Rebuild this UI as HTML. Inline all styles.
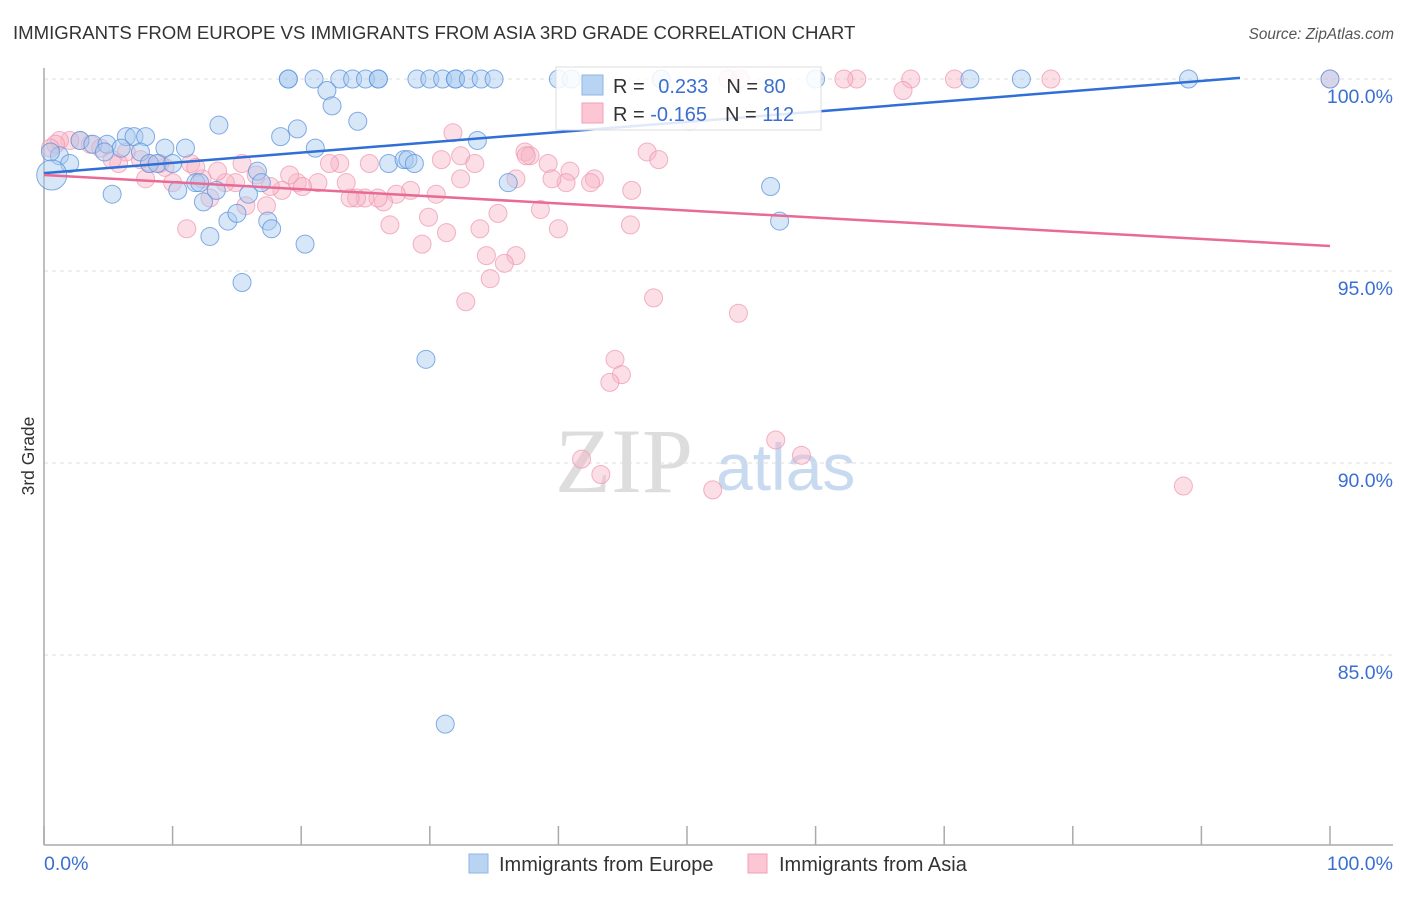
<!DOCTYPE html>
<html><head><meta charset="utf-8"><style>
body{margin:0;background:#fff;font-family:"Liberation Sans",sans-serif}
</style></head><body>
<svg id="chart" width="1406" height="892" xmlns="http://www.w3.org/2000/svg" font-family="Liberation Sans, sans-serif">
<text x="13" y="39" font-size="18.6" fill="#333">IMMIGRANTS FROM EUROPE VS IMMIGRANTS FROM ASIA 3RD GRADE CORRELATION CHART</text>
<text x="1394" y="39" font-size="15.3" fill="#555" font-style="italic" text-anchor="end">Source: ZipAtlas.com</text>
<text x="555" y="492" font-size="92" fill="#ddd" font-family="Liberation Serif, serif">ZIP</text>
<text x="716" y="490" font-size="66" fill="#c8daf0">atlas</text>
<text transform="translate(34,456) rotate(-90)" font-size="17.5" fill="#333" text-anchor="middle">3rd Grade</text>
<g id="grid"></g><g id="marks"></g><g id="lines"></g>
<g>
<rect x="556" y="67" width="265" height="63" fill="#fff" fill-opacity="0.85" stroke="#ddd"/>
<rect x="582" y="75" width="21" height="20" fill="#b9d3f3" stroke="#8fb4e6"/>
<rect x="582" y="103" width="21" height="20" fill="#fcc6d4" stroke="#f0a0b8"/>
<text x="613" y="93" font-size="20" fill="#333">R = <tspan fill="#3a6fd0" dx="8">0.233</tspan><tspan dx="18">N = </tspan><tspan fill="#3a6fd0">80</tspan></text>
<text x="613" y="121" font-size="20" fill="#333">R = <tspan fill="#3a6fd0">-0.165</tspan><tspan dx="18">N = </tspan><tspan fill="#3a6fd0">112</tspan></text>
</g>
<g>
<rect x="469" y="854" width="19" height="19" fill="#b9d3f3" stroke="#8fb4e6"/>
<text x="499" y="871" font-size="20" fill="#333">Immigrants from Europe</text>
<rect x="748" y="854" width="19" height="19" fill="#fcc6d4" stroke="#f0a0b8"/>
<text x="779" y="871" font-size="20" fill="#333">Immigrants from Asia</text>
</g>
</svg>
<script>
const yTicks=[100,95,90,85];
const xTickLabels=["0.0%","100.0%"];
const europeX=[19,19,21,23,24,25,26,26,29,30,31,32,32,33,34,35,40,41,48,60,72,76,89,100,22,22.4,24.4,19.7,18.4,13.6,21.1,33.7,2.8,3.8,4.9,6.4,7,7.9,6,4.7,9.4,11,7.5,1.2,2,0.5,0.6,8.2,8.8,10,5.3,10.4,11.8,12.1,13.4,12.4,12.9,14.3,15,15.4,15.9,16.6,16.9,17.4,17.7,20.3,26.8,28,28.3,28.8,36.1,29.7,31.2,56.5,57.2];
const europeY=[100,100,100,100,100,100,100,100,100,100,100,100,100,100,100,100,100,100,100,100,100,100,100,100,99.7,99.3,98.9,98.7,98.5,98.8,98.2,98.4,98.4,98.3,98.3,98.5,98.5,98.5,98.2,98.1,98.2,98.2,98.1,98,97.8,98.1,97.5,97.8,97.8,97.8,97,97.1,97.3,97.3,97.1,96.8,95.9,96.3,96.5,94.7,97,97.6,97.3,96.3,96.1,95.7,97.8,97.9,97.9,97.8,97.3,92.7,83.2,97.2,96.3];
const asiaX=[100,78.3,70.8,67.4,63.2,62.2,66.8,53.2,54.1,50.2,31.8,32.4,33.5,30.9,37.4,37.8,39.2,40.9,42.8,40.6,42.5,46.9,47.8,39.5,36.7,38.6,40,35.3,33.9,34.4,36.7,35.8,34.7,32.8,31.3,29.4,29.9,30.5,28.5,27.4,26.4,25.97,24.96,24.3,23.8,23.5,23,22.2,25.3,21.3,19.7,20.1,19.1,18.5,17.6,17.3,16.5,15.7,15.4,14.9,14.1,13.5,12.9,12.3,11.4,11.8,11.1,10,9.4,9,7.9,8.2,7.5,6.4,5.8,5.3,4.4,3.6,2.8,2,1.2,0.9,0.5,45.7,45.6,47.4,54,44.4,44.9,44,56.9,58.9,41.8,43.3,52,88.6,26.9,32.4,37.5];
const asiaY=[100,100,100,100,100,100,99.7,100,100,98.9,98.6,98,97.8,97.9,98.1,98,97.8,97.6,97.4,97.3,97.3,98.1,97.9,97.4,97.4,96.6,96.1,96.5,96.1,95.4,95.4,95.2,94.8,94.2,96,95.7,96.4,97,97.1,97,96.8,96.9,96.9,96.9,96.9,97.3,97.8,97.8,97.8,97.3,97.3,97.2,97.5,97.1,97.2,96.7,97.5,96.7,97.8,97.3,97.3,97.6,96.9,97.4,97.8,97.7,96.1,97.3,97.7,97.8,97.4,97.8,97.9,98.1,97.8,97.9,98.2,98.3,98.4,98.4,98.4,98.3,98.2,97.1,96.2,94.3,93.9,92.7,92.3,92.1,90.6,90.2,90.1,89.7,89.3,89.4,96.2,97.4,98];
const europeTrend=[97.55,100.03];
const asiaTrend=[97.5,95.65];
const NS='http://www.w3.org/2000/svg';
const X0=44,X1=1330,Y100=79,PXPCT=38.4;
const sx=v=>X0+(X1-X0)*v/100;
const sy=v=>Y100+(100-v)*PXPCT;
function mk(tag,attrs,parent){const e=document.createElementNS(NS,tag);for(const k in attrs)e.setAttribute(k,attrs[k]);parent.appendChild(e);return e;}
const grid=document.getElementById('grid'),marks=document.getElementById('marks'),lines=document.getElementById('lines');
yTicks.forEach(t=>{
 const l=mk('line',{x1:44,x2:1393,y1:sy(t),y2:sy(t),stroke:'#ddd','stroke-dasharray':'4,4'},grid);
 
 
 const tx=mk('text',{x:1393,y:sy(t)+24,'font-size':19.5,fill:'#3a6fd0','text-anchor':'end'},grid);
 tx.textContent=t.toFixed(1)+'%';
 
 
});
const ya=mk('line',{x1:44,x2:44,y1:68,y2:845,stroke:'#aaa','stroke-width':1.5},grid);


const xa=mk('line',{x1:44,x2:1393,y1:845,y2:845,stroke:'#aaa','stroke-width':1.5},grid);


for(let i=0;i<=10;i++){const t=mk('line',{x1:sx(i*10),x2:sx(i*10),y1:826,y2:845,stroke:'#aaa','stroke-width':1.5},grid);
 
 }
[[0,'start',44],[1,'end',1393]].forEach(([i,a,x])=>{const t=mk('text',{x:x,y:870,'font-size':19.5,fill:'#3a6fd0','text-anchor':a},grid);t.textContent=xTickLabels[i];
 
 });
asiaX.forEach((v,i)=>{const c=mk('circle',{cx:sx(v),cy:sy(asiaY[i]),r:9,fill:'#f7b6c8','fill-opacity':0.45,stroke:'#ee94ae','stroke-opacity':0.7},marks);
 
 });
europeX.forEach((v,i)=>{const c=mk('circle',{cx:sx(v),cy:sy(europeY[i]),r:(i==46?15:9),fill:'#a9c9f0','fill-opacity':0.45,stroke:'#5a92dc','stroke-opacity':0.75},marks);
 
 });
const bl=mk('line',{x1:sx(0),y1:sy(europeTrend[0]),x2:sx(93),y2:sy(europeTrend[1]),stroke:'#2f6fd6','stroke-width':2.5},lines);


const pl=mk('line',{x1:sx(0),y1:sy(asiaTrend[0]),x2:sx(100),y2:sy(asiaTrend[1]),stroke:'#e96a95','stroke-width':2.5},lines);


</script>
</body></html>
